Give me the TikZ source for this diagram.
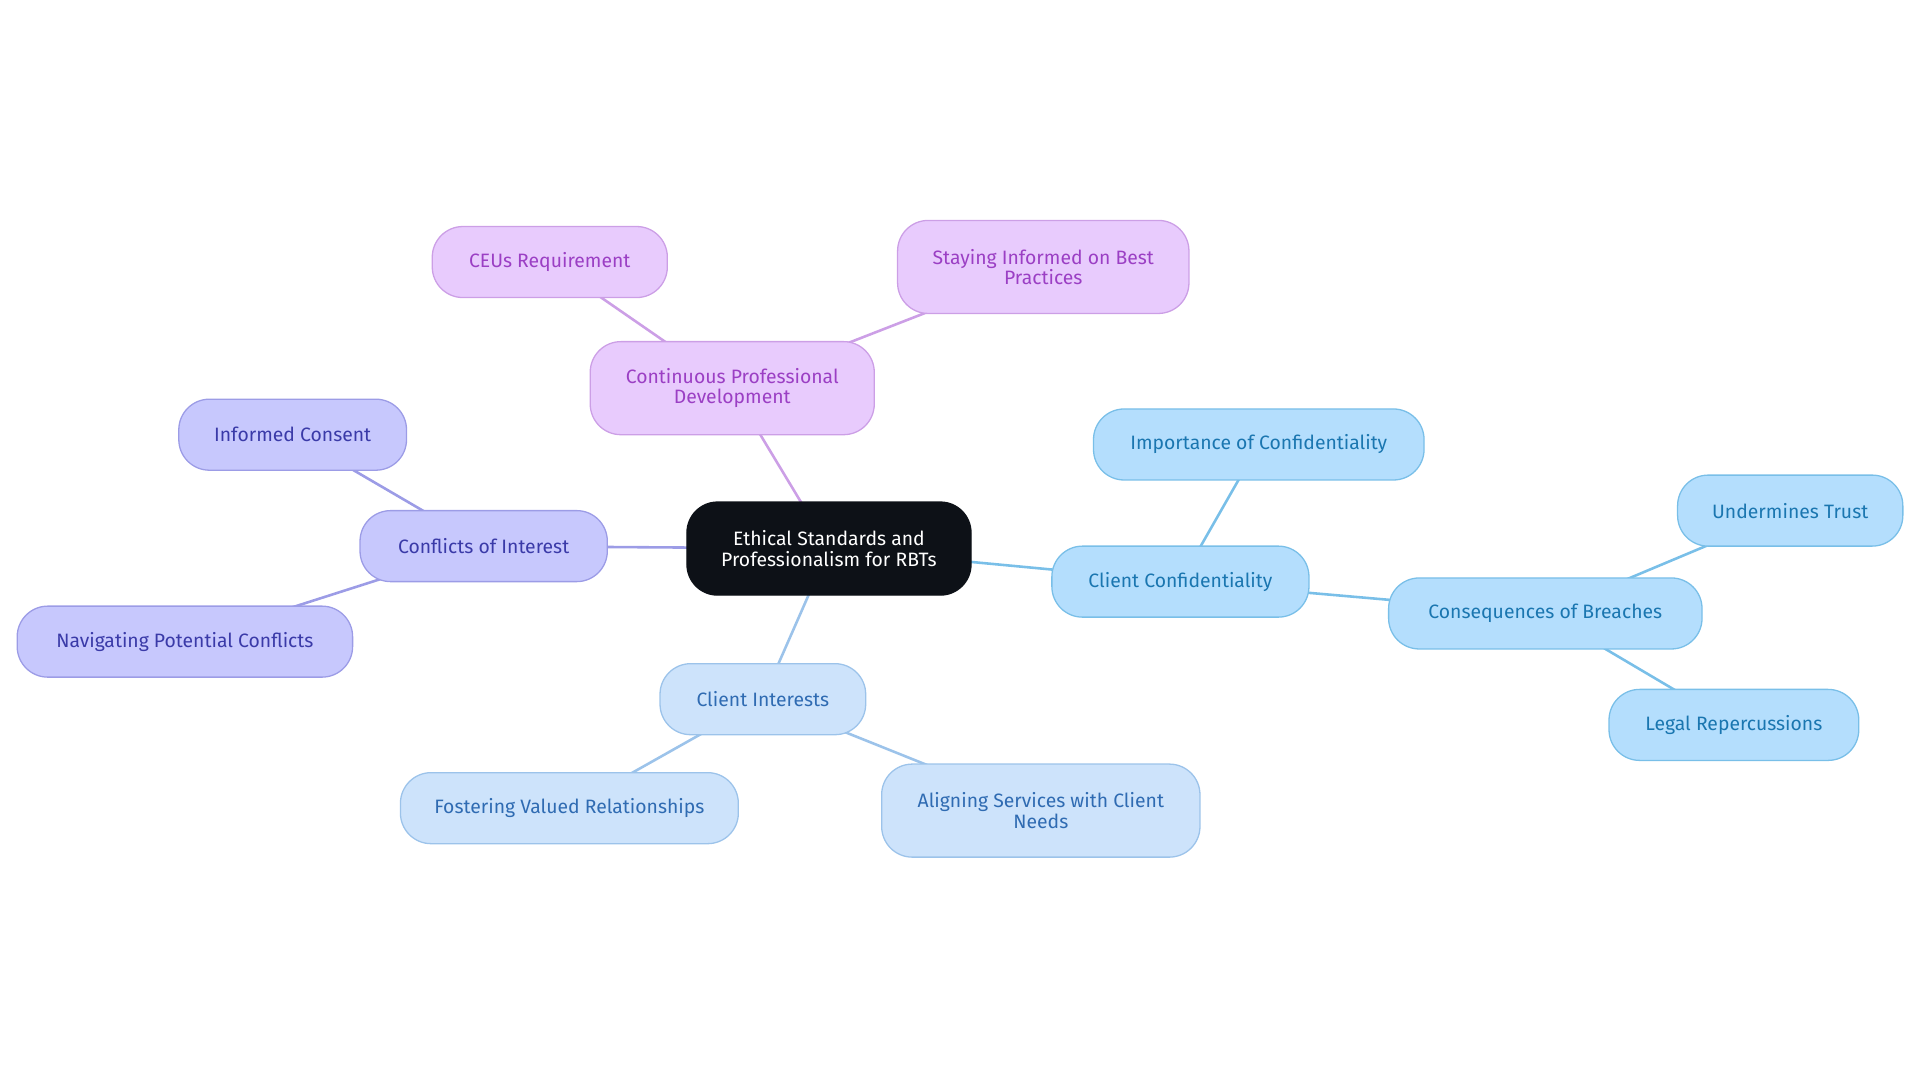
\documentclass[tikz,border=0pt]{standalone}
\usepackage{fontspec}
\setmainfont{Fira Sans}
\usetikzlibrary{backgrounds}
\definecolor{rootfill}{HTML}{0D1117}
\definecolor{purfill}{HTML}{E8CBFD}\definecolor{purline}{HTML}{CC9FE6}\definecolor{purtext}{HTML}{9B3FC4}
\definecolor{indfill}{HTML}{C7C8FD}\definecolor{indline}{HTML}{9C9CE6}\definecolor{indtext}{HTML}{3A3AA8}
\definecolor{lbfill}{HTML}{CDE3FB}\definecolor{lbline}{HTML}{9CC3EA}\definecolor{lbtext}{HTML}{2F6BB2}
\definecolor{skfill}{HTML}{B4DEFD}\definecolor{skline}{HTML}{79BFE8}\definecolor{sktext}{HTML}{1A76B0}
\tikzset{
  box/.style={draw, rounded corners=0.5cm, align=center, inner sep=0pt,
    font=\fontsize{9}{9.5}\selectfont, line width=0.6pt},
  rootbox/.style={box, fill=rootfill, draw=rootfill, text=white},
  purbox/.style={box, fill=purfill, draw=purline, text=purtext},
  indbox/.style={box, fill=indfill, draw=indline, text=indtext},
  lbbox/.style={box, fill=lbfill, draw=lbline, text=lbtext},
  skbox/.style={box, fill=skfill, draw=skline, text=sktext},
  link/.style={line width=1.2pt}
}
\begin{document}
\begin{tikzpicture}[x=0.02cm, y=-0.02cm]
	\useasboundingbox (0,0) rectangle (1568,884);
	
	\node [rootbox, minimum width=4.64cm, minimum height=1.52cm] (root) at (677,448) {Ethical Standards and\\Professionalism for RBTs};
	
	\node [purbox, minimum width=4.64cm, minimum height=1.52cm] (cpd) at (598,317) {Continuous Professional\\Development};
	\node [purbox, minimum width=3.84cm, minimum height=1.16cm] (ceu) at (449,214) {CEUs Requirement};
	\node [purbox, minimum width=4.76cm, minimum height=1.52cm] (stay) at (852,218) {Staying Informed on Best\\Practices};
	
	\node [indbox, minimum width=4.04cm, minimum height=1.16cm] (coi) at (395,446) {Conflicts of Interest};
	\node [indbox, minimum width=3.72cm, minimum height=1.16cm] (consent) at (239,355) {Informed Consent};
	\node [indbox, minimum width=5.48cm, minimum height=1.16cm] (navig) at (151,524) {Navigating Potential Conflicts};
	
	\node [lbbox, minimum width=3.36cm, minimum height=1.16cm] (cint) at (623,571) {Client Interests};
	\node [lbbox, minimum width=5.52cm, minimum height=1.16cm] (foster) at (465,660) {Fostering Valued Relationships};
	\node [lbbox, minimum width=5.20cm, minimum height=1.52cm] (align) at (850,662) {Aligning Services with Client\\Needs};
	
	\node [skbox, minimum width=4.20cm, minimum height=1.16cm] (conf) at (964,475) {Client Confidentiality};
	\node [skbox, minimum width=5.40cm, minimum height=1.16cm] (import) at (1028,363) {Importance of Confidentiality};
	\node [skbox, minimum width=5.12cm, minimum height=1.16cm] (conseq) at (1262,501) {Consequences of Breaches};
	\node [skbox, minimum width=3.68cm, minimum height=1.16cm] (trust) at (1462,417) {Undermines Trust};
	\node [skbox, minimum width=4.08cm, minimum height=1.16cm] (legal) at (1416,592) {Legal Repercussions};
	
	\begin{scope}[on background layer]
		\draw [link, purline] (root.center) -- (cpd.center) (cpd.center) -- (ceu.center) (cpd.center) -- (stay.center);
		\draw [link, indline] (root.center) -- (coi.center) (coi.center) -- (consent.center) (coi.center) -- (navig.center);
		\draw [link, lbline] (root.center) -- (cint.center) (cint.center) -- (foster.center) (cint.center) -- (align.center);
		\draw [link, skline] (root.center) -- (conf.center) (conf.center) -- (import.center) (conf.center) -- (conseq.center);
		\draw [link, skline] (conseq.center) -- (trust.center) (conseq.center) -- (legal.center);
	\end{scope}
\end{tikzpicture}
\end{document}
